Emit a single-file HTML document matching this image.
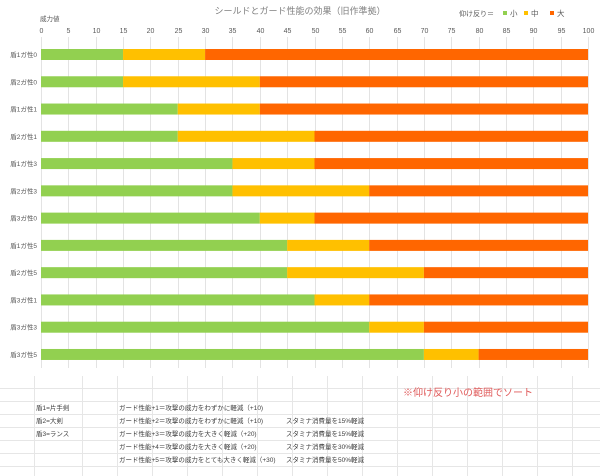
<!DOCTYPE html>
<html><head><meta charset="utf-8"><style>
html,body{margin:0;padding:0;background:#fff;}
body{width:600px;height:476px;overflow:hidden;position:relative;font-family:"Liberation Sans","Noto Sans CJK JP",sans-serif;color:#595959;}
.t{position:absolute;white-space:nowrap;}
</style></head><body>
<svg width="600" height="476" style="position:absolute;left:0;top:0" xmlns="http://www.w3.org/2000/svg" font-family="Liberation Sans, Noto Sans CJK JP, sans-serif">
<g stroke="#e6e6e6" stroke-width="1">
<line x1="0" y1="388.5" x2="600" y2="388.5"/><line x1="0" y1="401.5" x2="600" y2="401.5"/><line x1="0" y1="414.5" x2="600" y2="414.5"/><line x1="0" y1="427.5" x2="600" y2="427.5"/><line x1="0" y1="440.5" x2="600" y2="440.5"/><line x1="0" y1="453.5" x2="600" y2="453.5"/><line x1="0" y1="466.5" x2="600" y2="466.5"/>
<line x1="34.5" y1="376" x2="34.5" y2="476"/><line x1="82.5" y1="376" x2="82.5" y2="476"/><line x1="117.5" y1="376" x2="117.5" y2="476"/><line x1="152.5" y1="376" x2="152.5" y2="476"/><line x1="187.5" y1="376" x2="187.5" y2="476"/><line x1="222.5" y1="376" x2="222.5" y2="476"/><line x1="257.5" y1="376" x2="257.5" y2="476"/><line x1="292.5" y1="376" x2="292.5" y2="476"/><line x1="327.5" y1="376" x2="327.5" y2="476"/><line x1="362.5" y1="376" x2="362.5" y2="476"/><line x1="397.5" y1="376" x2="397.5" y2="476"/><line x1="432.5" y1="376" x2="432.5" y2="476"/><line x1="467.5" y1="376" x2="467.5" y2="476"/><line x1="502.5" y1="376" x2="502.5" y2="476"/><line x1="537.5" y1="376" x2="537.5" y2="476"/><line x1="572.5" y1="376" x2="572.5" y2="476"/>
</g>
<g id="grid" stroke="#e3e3e3" stroke-width="1"></g>
<g id="bars"></g>
<g id="lab" font-size="7" fill="#595959"></g>
<text x="300" y="14" font-size="9" fill="#808080" text-anchor="middle">シールドとガード性能の効果（旧作準拠）</text>
<text x="40" y="21" font-size="6.5" fill="#595959">威力値</text>
<text x="459" y="16" font-size="7" fill="#595959">仰け反り＝</text>
<rect x="503" y="11" width="4" height="4" fill="#92d050"/><text x="510" y="16" font-size="7.5" fill="#595959">小</text>
<rect x="524" y="11" width="4" height="4" fill="#ffc000"/><text x="531" y="16" font-size="7.5" fill="#595959">中</text>
<rect x="550" y="11" width="4" height="4" fill="#ff6600"/><text x="557" y="16" font-size="7.5" fill="#595959">大</text>
<text x="403" y="396" font-size="10" fill="#e05a5a">※仰け反り小の範囲でソート</text>
<g font-size="6.5" fill="#404040">
<text x="36" y="410">盾1=片手剣</text><text x="36" y="423">盾2=大剣</text><text x="36" y="436">盾3=ランス</text>
<text x="119" y="410">ガード性能+1＝攻撃の威力をわずかに軽減（+10)</text>
<text x="119" y="423">ガード性能+2＝攻撃の威力をわずかに軽減（+10)</text>
<text x="119" y="436">ガード性能+3＝攻撃の威力を大きく軽減（+20)</text>
<text x="119" y="449">ガード性能+4＝攻撃の威力を大きく軽減（+20)</text>
<text x="119" y="462">ガード性能+5＝攻撃の威力をとても大きく軽減（+30)</text>
<text x="286" y="423">スタミナ消費量を15%軽減</text>
<text x="286" y="436">スタミナ消費量を15%軽減</text>
<text x="286" y="449">スタミナ消費量を30%軽減</text>
<text x="286" y="462">スタミナ消費量を50%軽減</text>
</g>
</svg>
<script>
var ns="http://www.w3.org/2000/svg";
function el(p,n,a,t){var e=document.createElementNS(ns,n);for(var k in a)e.setAttribute(k,a[k]);if(t!==undefined)e.textContent=t;document.getElementById(p).appendChild(e);}
var x0=41,sc=5.47;
for(var v=0;v<=100;v+=5){var x=Math.round(x0+v*sc)+0.5;el("grid","line",{x1:x,y1:37,x2:x,y2:368});el("lab","text",{x:x,y:33,"text-anchor":"middle"},String(v));}
var d=[["盾1ガ性0",15,30],["盾2ガ性0",15,40],["盾1ガ性1",25,40],["盾2ガ性1",25,50],["盾1ガ性3",35,50],["盾2ガ性3",35,60],["盾3ガ性0",40,50],["盾1ガ性5",45,60],["盾2ガ性5",45,70],["盾3ガ性1",50,60],["盾3ガ性3",60,70],["盾3ガ性5",70,80]];
d.forEach(function(r,i){var y=49+i*27.27;
el("bars","rect",{x:x0,y:y,width:r[1]*sc,height:11,fill:"#92d050"});
el("bars","rect",{x:x0+r[1]*sc,y:y,width:(r[2]-r[1])*sc,height:11,fill:"#ffc000"});
el("bars","rect",{x:x0+r[2]*sc,y:y,width:(100-r[2])*sc,height:11,fill:"#ff6600"});
el("lab","text",{x:37,y:y+8,"text-anchor":"end","font-size":"6.5"},r[0]);});
</script>
</body></html>
